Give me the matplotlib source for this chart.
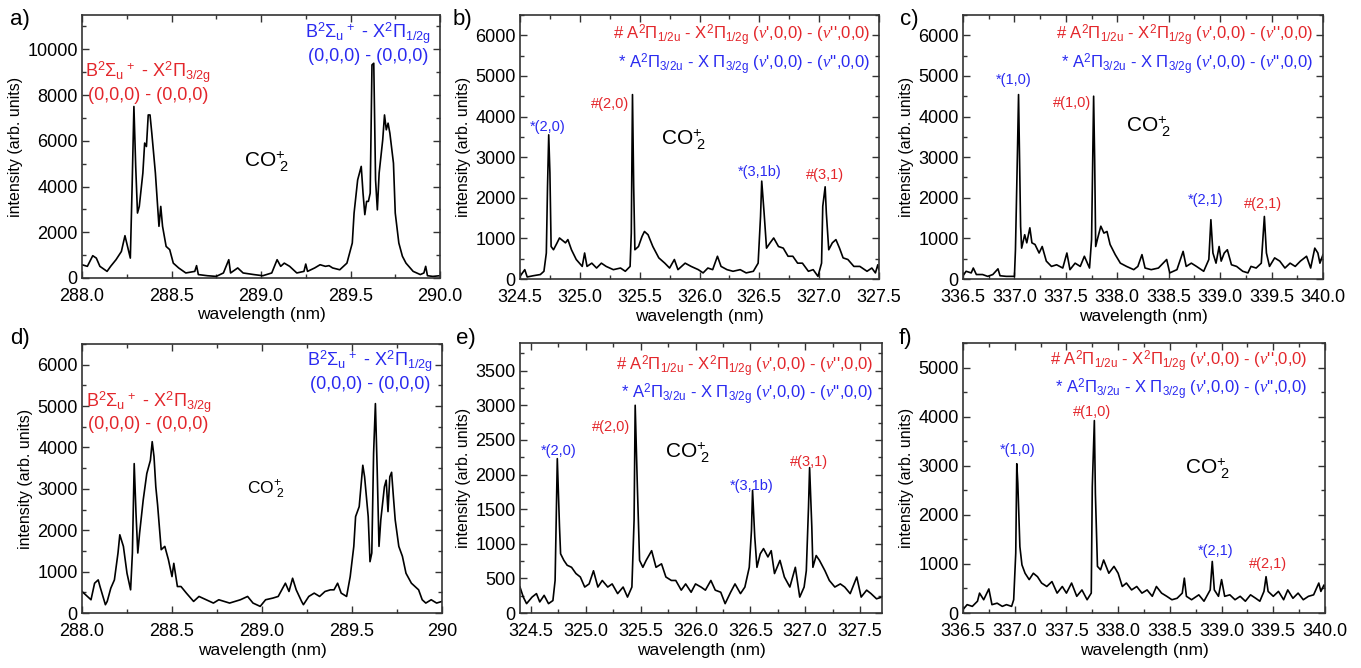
import matplotlib
matplotlib.use('Agg')
import matplotlib.pyplot as plt
from matplotlib.ticker import MultipleLocator

plt.rcParams['font.family'] = ['Liberation Sans', 'DejaVu Sans']
plt.rcParams['mathtext.fontset'] = 'custom'
plt.rcParams['mathtext.rm'] = 'Liberation Sans'
plt.rcParams['mathtext.it'] = 'Liberation Serif:italic'
plt.rcParams['mathtext.bf'] = 'Liberation Sans:bold'

RED = '#E3262B'
BLUE = '#2A2AF0'

# --- Data ---
a_wl = [288.00, 288.03, 288.06, 288.08, 288.10, 288.14, 288.16, 288.19, 288.22, 288.24, 288.27, 288.28,
        288.29, 288.30, 288.31, 288.32, 288.34, 288.35, 288.36, 288.37, 288.38, 288.39, 288.41, 288.43,
        288.44, 288.45, 288.47, 288.49, 288.51, 288.54, 288.58, 288.63, 288.64, 288.65, 288.70, 288.75,
        288.79, 288.82, 288.83, 288.87, 288.90, 288.96, 289.01, 289.06, 289.09, 289.11, 289.13, 289.16,
        289.20, 289.24, 289.25, 289.26, 289.30, 289.33, 289.36, 289.38, 289.40, 289.44, 289.48, 289.51,
        289.52, 289.54, 289.56, 289.57, 289.58, 289.59, 289.60, 289.61, 289.62, 289.63, 289.64, 289.65,
        289.66, 289.68, 289.69, 289.70, 289.71, 289.72, 289.74, 289.75, 289.77, 289.79, 289.81, 289.85,
        289.89, 289.91, 289.92, 289.93, 289.96, 290.00]
a_int = [580, 510, 975, 870, 510, 290, 510, 800, 1160, 1850, 870, 4000,
         7500, 4880, 2840, 3130, 4590, 5900, 5750, 7130, 7130, 6330, 4590, 2260,
         3130, 2260, 1380, 1240, 650, 440, 220, 290, 540, 150, 100, 70,
         220, 800, 220, 440, 220, 150, 100, 220, 800, 510, 650, 510,
         220, 290, 610, 290, 440, 580, 510, 540, 440, 360, 650, 1530,
         2840, 4290, 4880, 3710, 2770, 3350, 3350, 3710, 9320, 9390, 4290, 2980,
         4590, 6040, 7130, 6480, 6770, 6330, 5020, 2840, 1530, 950, 650, 290,
         150, 220, 510, 100, 70, 100]

b_wl = [324.50, 324.54, 324.56, 324.61, 324.67, 324.70, 324.72, 324.73, 324.74, 324.75, 324.76, 324.78,
        324.81, 324.83, 324.88, 324.90, 324.93, 324.97, 325.02, 325.04, 325.06, 325.10, 325.14, 325.18,
        325.22, 325.28, 325.34, 325.38, 325.42, 325.43, 325.44, 325.45, 325.46, 325.49, 325.52, 325.54,
        325.57, 325.61, 325.66, 325.71, 325.75, 325.79, 325.82, 325.88, 325.93, 325.99, 326.03, 326.07,
        326.11, 326.15, 326.18, 326.23, 326.28, 326.34, 326.39, 326.45, 326.49, 326.51, 326.52, 326.54,
        326.56, 326.59, 326.62, 326.66, 326.70, 326.74, 326.78, 326.82, 326.86, 326.91, 326.95, 326.99,
        327.02, 327.03, 327.05, 327.06, 327.08, 327.11, 327.14, 327.17, 327.20, 327.24, 327.29, 327.34,
        327.40, 327.44, 327.47, 327.49, 327.50]
b_int = [65, 230, 50, 80, 110, 190, 640, 2280, 3550, 2610, 800, 720,
         890, 1010, 890, 970, 720, 480, 310, 640, 310, 390, 270, 390,
         310, 230, 270, 190, 310, 1130, 4540, 2280, 720, 800, 1050, 1170,
         1090, 800, 520, 390, 270, 480, 230, 390, 310, 230, 150, 270,
         230, 560, 310, 230, 190, 230, 150, 190, 390, 1540, 2410, 1620,
         760, 890, 1010, 800, 760, 560, 560, 390, 390, 190, 230, 65,
         390, 1790, 2270, 1620, 720, 890, 970, 760, 520, 480, 310, 310,
         190, 270, 150, 350, 230]

c_wl = [336.50, 336.53, 336.58, 336.60, 336.63, 336.69, 336.74, 336.79, 336.84, 336.86, 336.92, 337.00,
        337.01, 337.03, 337.04, 337.05, 337.06, 337.07, 337.10, 337.12, 337.15, 337.17, 337.20, 337.24,
        337.27, 337.31, 337.36, 337.41, 337.47, 337.51, 337.54, 337.59, 337.64, 337.68, 337.73, 337.75,
        337.77, 337.78, 337.79, 337.81, 337.84, 337.87, 337.90, 337.93, 337.98, 338.03, 338.09, 338.16,
        338.20, 338.24, 338.27, 338.33, 338.40, 338.48, 338.51, 338.58, 338.64, 338.67, 338.72, 338.77,
        338.84, 338.89, 338.91, 338.93, 338.96, 338.99, 339.01, 339.04, 339.07, 339.11, 339.16, 339.22,
        339.27, 339.30, 339.35, 339.40, 339.43, 339.45, 339.48, 339.53, 339.58, 339.63, 339.68, 339.73,
        339.78, 339.84, 339.88, 339.92, 339.95, 339.97, 340.00]
c_int = [80, 190, 150, 270, 110, 110, 65, 110, 250, 80, 65, 65,
         720, 3190, 4540, 2940, 1300, 760, 1090, 890, 1260, 890, 850, 640,
         800, 440, 310, 350, 270, 640, 230, 390, 310, 560, 270, 970,
         4500, 2940, 800, 1010, 1300, 1130, 1170, 850, 600, 390, 310, 230,
         310, 600, 270, 230, 270, 480, 150, 230, 680, 310, 390, 310,
         190, 480, 1460, 640, 390, 800, 440, 640, 720, 350, 310, 190,
         150, 310, 270, 390, 1540, 640, 310, 520, 440, 270, 390, 310,
         440, 560, 270, 760, 640, 390, 600]

d_wl = [288.00, 288.02, 288.05, 288.07, 288.09, 288.10, 288.13, 288.14, 288.16, 288.18, 288.20, 288.21,
        288.23, 288.25, 288.27, 288.28, 288.29, 288.30, 288.31, 288.32, 288.34, 288.36, 288.38, 288.39,
        288.40, 288.41, 288.42, 288.44, 288.46, 288.48, 288.50, 288.51, 288.53, 288.55, 288.58, 288.62,
        288.65, 288.69, 288.73, 288.76, 288.82, 288.88, 288.92, 288.95, 288.99, 289.02, 289.06, 289.09,
        289.13, 289.15, 289.17, 289.19, 289.22, 289.23, 289.26, 289.29, 289.32, 289.35, 289.38, 289.40,
        289.42, 289.44, 289.47, 289.49, 289.51, 289.52, 289.54, 289.56, 289.57, 289.59, 289.60, 289.61,
        289.62, 289.63, 289.64, 289.65, 289.66, 289.68, 289.69, 289.70, 289.71, 289.72, 289.73, 289.74,
        289.76, 289.78, 289.80, 289.83, 289.85, 289.87, 289.89, 289.91, 289.94, 289.97, 290.00]
d_int = [520, 440, 320, 720, 800, 640, 200, 280, 600, 800, 1450, 1890,
         1610, 960, 560, 1450, 3610, 2410, 1450, 1930, 2730, 3370, 3690, 4140,
         3780, 3050, 2610, 1530, 1610, 1290, 880, 1200, 640, 640, 480, 280,
         400, 320, 240, 320, 240, 320, 400, 240, 160, 320, 360, 400,
         720, 520, 840, 560, 280, 200, 400, 480, 400, 520, 560, 560,
         720, 480, 400, 880, 1610, 2330, 2570, 3570, 3290, 2330, 1240, 1450,
         3860, 5060, 3450, 1610, 2250, 3050, 3210, 2450, 3290, 3400, 2810, 2250,
         1610, 1370, 960, 720, 640, 560, 320, 240, 320, 240, 280]

e_wl = [324.40, 324.43, 324.46, 324.51, 324.55, 324.58, 324.62, 324.66, 324.70, 324.72, 324.73, 324.74,
        324.76, 324.77, 324.80, 324.83, 324.87, 324.91, 324.95, 324.99, 325.03, 325.07, 325.11, 325.15,
        325.20, 325.24, 325.29, 325.34, 325.38, 325.42, 325.44, 325.45, 325.47, 325.49, 325.52, 325.55,
        325.60, 325.64, 325.69, 325.73, 325.78, 325.82, 325.87, 325.91, 325.96, 326.00, 326.05, 326.09,
        326.14, 326.18, 326.23, 326.27, 326.32, 326.36, 326.41, 326.45, 326.49, 326.51, 326.52, 326.54,
        326.56, 326.59, 326.62, 326.66, 326.69, 326.72, 326.77, 326.81, 326.86, 326.91, 326.95, 326.99,
        327.01, 327.03, 327.04, 327.06, 327.07, 327.10, 327.13, 327.18, 327.22, 327.27, 327.32, 327.36,
        327.41, 327.47, 327.51, 327.56, 327.60, 327.65, 327.70]
e_int = [375, 230, 135, 230, 280, 160, 255, 135, 180, 470, 1340, 2230,
         1250, 855, 760, 690, 660, 570, 520, 375, 420, 610, 375, 470,
         375, 420, 280, 375, 230, 375, 1340, 3000, 1820, 760, 660, 760,
         900, 660, 710, 520, 470, 470, 330, 420, 300, 420, 375, 330,
         470, 330, 300, 135, 300, 420, 280, 375, 660, 1190, 1770, 1100,
         660, 855, 930, 810, 900, 570, 760, 520, 375, 660, 230, 375,
         610, 1530, 2100, 1250, 660, 830, 760, 610, 470, 375, 420, 375,
         280, 520, 230, 330, 280, 205, 230]

f_wl = [336.50, 336.54, 336.59, 336.64, 336.66, 336.70, 336.75, 336.78, 336.83, 336.88, 336.92, 336.97,
        336.99, 337.01, 337.02, 337.03, 337.05, 337.07, 337.10, 337.14, 337.18, 337.22, 337.26, 337.31,
        337.36, 337.41, 337.46, 337.50, 337.55, 337.60, 337.65, 337.70, 337.74, 337.75, 337.77, 337.78,
        337.80, 337.83, 337.86, 337.91, 337.96, 338.00, 338.04, 338.08, 338.13, 338.18, 338.23, 338.28,
        338.33, 338.37, 338.42, 338.47, 338.52, 338.57, 338.62, 338.64, 338.66, 338.71, 338.78, 338.83,
        338.89, 338.91, 338.93, 338.97, 339.00, 339.03, 339.08, 339.13, 339.18, 339.23, 339.28, 339.33,
        339.37, 339.41, 339.43, 339.45, 339.50, 339.55, 339.60, 339.64, 339.69, 339.74, 339.79, 339.84,
        339.89, 339.94, 339.96, 339.99, 340.00]
f_int = [70, 170, 135, 240, 405, 270, 490, 170, 200, 135, 170, 135,
         270, 1220, 3040, 2640, 1350, 980, 810, 680, 810, 740, 610, 540,
         640, 405, 540, 405, 610, 340, 470, 270, 405, 2570, 3920, 2430,
         950, 880, 1080, 810, 950, 810, 540, 610, 470, 540, 405, 470,
         340, 540, 405, 340, 270, 300, 405, 710, 340, 270, 370, 240,
         470, 1050, 470, 340, 680, 340, 370, 270, 340, 240, 370, 300,
         240, 440, 740, 440, 340, 440, 270, 470, 300, 405, 270, 340,
         370, 610, 440, 570, 510]

B_RED = [r'B$^2\Sigma_\mathrm{u}$$^{\,+}$ - X$^2\Pi_\mathrm{3/2g}$', '(0,0,0) - (0,0,0)']
B_BLUE = [r'B$^2\Sigma_\mathrm{u}$$^{\,+}$ - X$^2\Pi_\mathrm{1/2g}$', '(0,0,0) - (0,0,0)']
A_RED = r"# A$^2\Pi_\mathrm{1/2u}$ - X$^2\Pi_\mathrm{1/2g}$ ($\nu$',0,0) - ($\nu$'',0,0)"
A_BLUE = r"* A$^2\Pi_\mathrm{3/2u}$ - X $\Pi_\mathrm{3/2g}$ ($\nu$',0,0) - ($\nu$'',0,0)"
CO2 = r'CO$^{+}_{\ 2}$'

W, H = 1361, 668
fig = plt.figure(figsize=(W / 100, H / 100), dpi=100)


def make_ax(px_left, px_right, px_top, px_bot, xlim, xmaj, ylim, ymaj):
    ax = fig.add_axes([px_left / W, 1 - px_bot / H, (px_right - px_left) / W, (px_bot - px_top) / H])
    ax.set_xlim(*xlim)
    ax.set_ylim(*ylim)
    ax.xaxis.set_major_locator(MultipleLocator(xmaj))
    ax.xaxis.set_minor_locator(MultipleLocator(xmaj / 2))
    ax.yaxis.set_major_locator(MultipleLocator(ymaj))
    ax.yaxis.set_minor_locator(MultipleLocator(ymaj / 2))
    ax.tick_params(which='both', direction='in', top=True, right=True, labelsize=13, width=1, color='#333333')
    ax.tick_params(which='major', length=5)
    ax.tick_params(axis='x', which='major', pad=7)
    ax.tick_params(axis='y', which='major', pad=3)
    ax.tick_params(which='minor', length=3)
    for s in ax.spines.values():
        s.set_linewidth(1.2)
        s.set_color('#333333')
    ax.set_xlabel('wavelength (nm)', fontsize=12.5, labelpad=2)
    ax.set_ylabel('intensity (arb. units)', fontsize=11.5, labelpad=3)
    return ax


def plot(ax, wl, val):
    ax.plot(wl, val, color='black', lw=1.2)


PK = 10.5

# a)
ax = make_ax(82, 440, 15, 278, (288.0, 290.0), 0.5, (0, 11500), 2000)
ax.xaxis.set_major_formatter(plt.FormatStrFormatter('%.1f'))
plot(ax, a_wl, a_int)
ax.text(288.37, 9000, B_RED[0], color=RED, fontsize=13, ha='center', va='center')
ax.text(288.37, 8000, B_RED[1], color=RED, fontsize=13, ha='center', va='center')
ax.text(289.60, 10700, B_BLUE[0], color=BLUE, fontsize=13, ha='center', va='center')
ax.text(289.60, 9680, B_BLUE[1], color=BLUE, fontsize=13, ha='center', va='center')
ax.text(289.03, 5100, CO2, fontsize=15, ha='center', va='center')

# b)
ax = make_ax(520, 879, 15, 279, (324.5, 327.5), 0.5, (0, 6500), 1000)
ax.xaxis.set_major_formatter(plt.FormatStrFormatter('%.1f'))
plot(ax, b_wl, b_int)
ax.text(327.43, 6000, A_RED, color=RED, fontsize=12, ha='right', va='center')
ax.text(327.43, 5280, A_BLUE, color=BLUE, fontsize=12, ha='right', va='center')
ax.text(324.73, 3740, '*(2,0)', color=BLUE, fontsize=PK, ha='center', va='center')
ax.text(325.25, 4320, '#(2,0)', color=RED, fontsize=PK, ha='center', va='center')
ax.text(326.50, 2640, '*(3,1b)', color=BLUE, fontsize=PK, ha='center', va='center')
ax.text(327.05, 2550, '#(3,1)', color=RED, fontsize=PK, ha='center', va='center')
ax.text(325.86, 3430, CO2, fontsize=15, ha='center', va='center')

# c)
ax = make_ax(963, 1323, 15, 279, (336.5, 340.0), 0.5, (0, 6500), 1000)
ax.xaxis.set_major_formatter(plt.FormatStrFormatter('%.1f'))
plot(ax, c_wl, c_int)
ax.text(339.91, 6000, A_RED, color=RED, fontsize=12, ha='right', va='center')
ax.text(339.91, 5280, A_BLUE, color=BLUE, fontsize=12, ha='right', va='center')
ax.text(336.99, 4890, '*(1,0)', color=BLUE, fontsize=PK, ha='center', va='center')
ax.text(337.56, 4330, '#(1,0)', color=RED, fontsize=PK, ha='center', va='center')
ax.text(338.86, 1950, '*(2,1)', color=BLUE, fontsize=PK, ha='center', va='center')
ax.text(339.42, 1850, '#(2,1)', color=RED, fontsize=PK, ha='center', va='center')
ax.text(338.30, 3760, CO2, fontsize=15, ha='center', va='center')

# d)
ax = make_ax(82, 442, 344, 613, (288.0, 290.0), 0.5, (0, 6500), 1000)
ax.xaxis.set_major_formatter(plt.FuncFormatter(lambda v, p: '290' if abs(v - 290) < 1e-6 else '%.1f' % v))
plot(ax, d_wl, d_int)
ax.text(288.37, 5100, B_RED[0], color=RED, fontsize=13, ha='center', va='center')
ax.text(288.37, 4560, B_RED[1], color=RED, fontsize=13, ha='center', va='center')
ax.text(289.60, 6090, B_BLUE[0], color=BLUE, fontsize=13, ha='center', va='center')
ax.text(289.60, 5530, B_BLUE[1], color=BLUE, fontsize=13, ha='center', va='center')
ax.text(289.02, 2970, CO2, fontsize=12.5, ha='center', va='center')

# e)
ax = make_ax(520, 882, 343, 613, (324.4, 327.7), 0.5, (0, 3900), 500)
ax.xaxis.set_major_formatter(plt.FormatStrFormatter('%.1f'))
plot(ax, e_wl, e_int)
ax.text(327.62, 3560, A_RED, color=RED, fontsize=12, ha='right', va='center')
ax.text(327.62, 3160, A_BLUE, color=BLUE, fontsize=12, ha='right', va='center')
ax.text(324.75, 2340, '*(2,0)', color=BLUE, fontsize=PK, ha='center', va='center')
ax.text(325.23, 2680, '#(2,0)', color=RED, fontsize=PK, ha='center', va='center')
ax.text(326.51, 1840, '*(3,1b)', color=BLUE, fontsize=PK, ha='center', va='center')
ax.text(327.03, 2180, '#(3,1)', color=RED, fontsize=PK, ha='center', va='center')
ax.text(325.92, 2320, CO2, fontsize=15, ha='center', va='center')

# f)
ax = make_ax(963, 1325, 343, 613, (336.5, 340.0), 0.5, (0, 5500), 1000)
ax.xaxis.set_major_formatter(plt.FormatStrFormatter('%.1f'))
plot(ax, f_wl, f_int)
ax.text(339.83, 5130, A_RED, color=RED, fontsize=12, ha='right', va='center')
ax.text(339.83, 4560, A_BLUE, color=BLUE, fontsize=12, ha='right', va='center')
ax.text(337.03, 3320, '*(1,0)', color=BLUE, fontsize=PK, ha='center', va='center')
ax.text(337.75, 4090, '#(1,0)', color=RED, fontsize=PK, ha='center', va='center')
ax.text(338.94, 1270, '*(2,1)', color=BLUE, fontsize=PK, ha='center', va='center')
ax.text(339.45, 990, '#(2,1)', color=RED, fontsize=PK, ha='center', va='center')
ax.text(338.86, 2940, CO2, fontsize=15, ha='center', va='center')

# panel letters
for lab, px, py in [('a)', 10, 20), ('b)', 453, 20), ('c)', 900, 20),
                    ('d)', 10, 338), ('e)', 456, 338), ('f)', 899, 338)]:
    fig.text(px / W, 1 - py / H, lab, fontsize=16, ha='left', va='center')

fig.savefig('out.png', dpi=100)
